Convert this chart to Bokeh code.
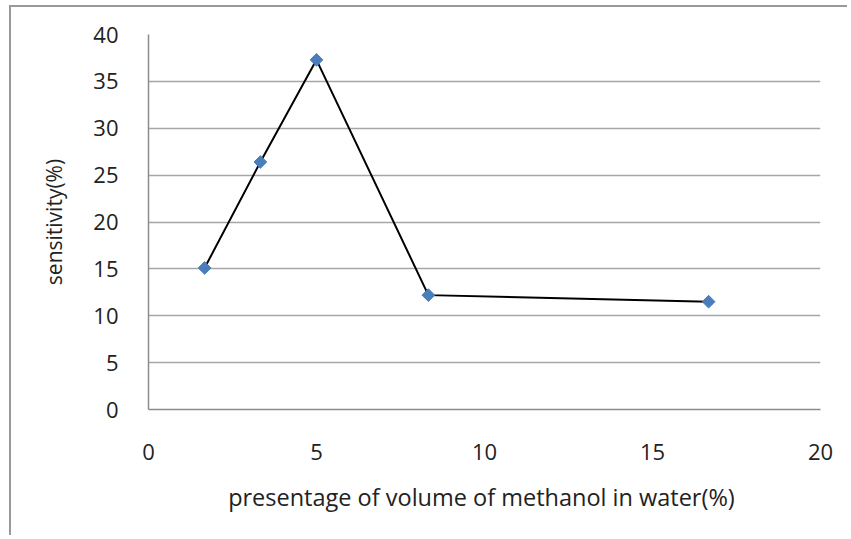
import math
from bokeh.plotting import figure
from bokeh.models import Range1d, FixedTicker
from bokeh.embed import file_html
from bokeh.resources import INLINE

methanol_pct = [1.67, 3.33, 5.0, 8.33, 16.67]
sensitivity = [15.1, 26.4, 37.3, 12.2, 11.5]
x_ticks = [0, 5, 10, 15, 20]
y_ticks = [0, 5, 10, 15, 20, 25, 30, 35, 40]

FONT = "Open Sans"

p = figure(width=838, height=530, output_backend="svg", toolbar_location=None,
           x_range=Range1d(0, 20), y_range=Range1d(0, 40),
           min_border_left=137, min_border_right=29, min_border_top=27, min_border_bottom=128)
p.styles = {"margin-left": "9px", "margin-top": "5px",
            "border-left": "2px solid #999999", "border-top": "2px solid #999999"}

p.outline_line_color = None
p.background_fill_color = "white"
p.border_fill_color = "white"

p.xaxis.ticker = FixedTicker(ticks=x_ticks)
p.yaxis.ticker = FixedTicker(ticks=y_ticks)
for ax in (p.xaxis, p.yaxis):
    ax.axis_line_color = "#8c8c8c"
    ax.axis_line_width = 1.5
    ax.major_tick_line_color = None
    ax.minor_tick_line_color = None
    ax.major_label_text_font = FONT
    ax.major_label_text_font_size = "22px"
    ax.major_label_text_color = "#222222"
    ax.axis_label_text_font = FONT
    ax.axis_label_text_font_style = "normal"
    ax.axis_label_text_color = "#222222"

p.xaxis.axis_label_text_font_size = "23.5px"
p.yaxis.axis_label_text_font_size = "21px"
p.xaxis.axis_label = "presentage of volume of  methanol in water(%)"
p.yaxis.axis_label = "sensitivity(%)"
p.xaxis.major_label_standoff = 28
p.yaxis.major_label_standoff = 24
p.xaxis.axis_label_standoff = 18
p.yaxis.axis_label_standoff = 22

p.xgrid.grid_line_color = None
p.ygrid.grid_line_color = "#a6a6a6"
p.ygrid.grid_line_width = 1.5

p.line(methanol_pct, sensitivity, line_color="black", line_width=2)
p.scatter(methanol_pct, sensitivity, marker="square", angle=math.pi / 4, size=9,
          fill_color="#4a7ebb", line_color="#4a7ebb")

open("out.html", "w").write(file_html(p, INLINE))
